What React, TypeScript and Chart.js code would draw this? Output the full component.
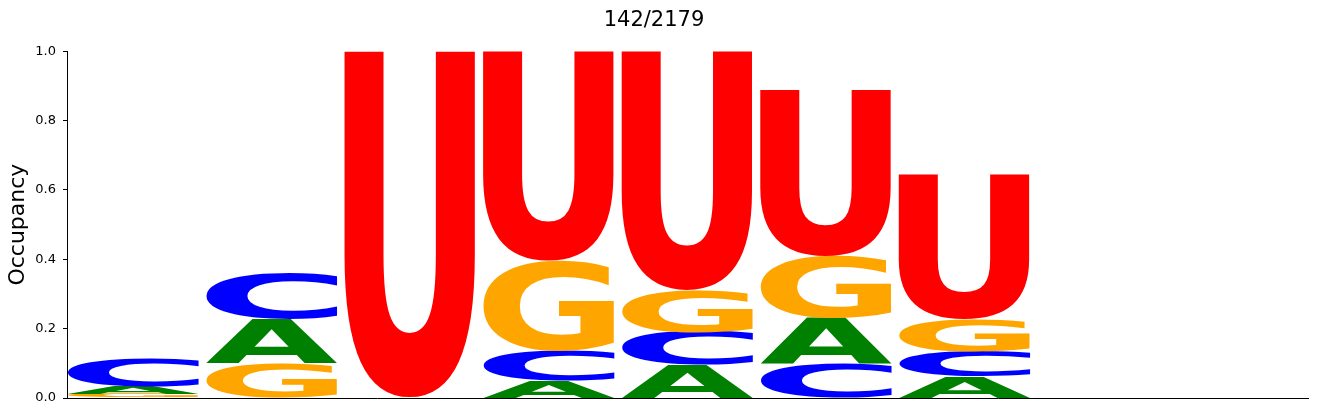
import { useEffect, useRef } from "react";
import Chart from "chart.js/auto";

// positions along the sequence (last two are empty)
const positions = [0, 1, 2, 3, 4, 5, 6, 7, 8];
const bases = ["A", "C", "G", "U"];

// occupancy per base at each position
const occA = [0.022, 0.127, 0, 0.049, 0.095, 0.13, 0.061, 0, 0];
const occC = [0.08, 0.132, 0, 0.087, 0.096, 0.1, 0.072, 0, 0];
const occG = [0.012, 0.1, 0, 0.26, 0.12, 0.179, 0.094, 0, 0];
const occU = [0, 0, 1.0, 0.604, 0.689, 0.479, 0.416, 0, 0];

const yTicks = [0, 0.2, 0.4, 0.6, 0.8, 1.0];

const baseColors: Record<string, string> = {
  A: "#008000",
  C: "#0000ff",
  G: "#ffa500",
  U: "#ff0000",
};

const series = [occA, occC, occG, occU];

// each column is stacked smallest at the bottom
const columns = positions.map((_, i) =>
  bases
    .map((b, j) => ({ letter: b, value: series[j][i] }))
    .sort((a, b) => a.value - b.value)
);

const glyphPlugin = {
  id: "glyphs",
  afterDatasetsDraw(chart: any) {
    const ctx = chart.ctx as CanvasRenderingContext2D;
    chart.data.datasets.forEach((ds: any, di: number) => {
      const meta = chart.getDatasetMeta(di);
      meta.data.forEach((bar: any, i: number) => {
        const { x, y, base, width } = bar.getProps(["x", "y", "base", "width"], true);
        const top = Math.min(y, base);
        const h = Math.abs(base - y);
        if (h < 0.5) return;
        const letter = ds.glyphs[i];
        ctx.save();
        ctx.font = "bold 200px 'DejaVu Sans'";
        ctx.textAlign = "left";
        ctx.textBaseline = "alphabetic";
        const m = ctx.measureText(letter);
        const gw = m.actualBoundingBoxLeft + m.actualBoundingBoxRight;
        const gh = m.actualBoundingBoxAscent + m.actualBoundingBoxDescent;
        ctx.translate(x - width / 2, top);
        ctx.scale(width / gw, h / gh);
        ctx.fillStyle = baseColors[letter];
        ctx.fillText(letter, m.actualBoundingBoxLeft, m.actualBoundingBoxAscent);
        ctx.restore();
      });
    });
  },
};

const App = () => {
  const chartRef = useRef<HTMLCanvasElement | null>(null);

  useEffect(() => {
    if (!chartRef.current) return;
    document.body.style.margin = "0";

    const datasets = bases.map((_, rank) => ({
      label: `rank ${rank}`,
      data: columns.map((c, i) => ({ x: positions[i], y: c[rank].value })),
      glyphs: columns.map((c) => c[rank].letter),
      backgroundColor: "rgba(0,0,0,0)",
      borderWidth: 0,
      categoryPercentage: 1,
      barPercentage: 0.95,
    }));

    Chart.defaults.font.family = "'DejaVu Sans'";
    Chart.defaults.color = "#000";

    const chartInstance = new Chart(chartRef.current, {
      type: "bar",
      data: { datasets: datasets as any },
      options: {
        animation: false,
        responsive: true,
        maintainAspectRatio: false,
        layout: { padding: { left: 0, right: 9, top: 0, bottom: 0 } },
        plugins: {
          legend: { display: false },
          tooltip: { enabled: false },
          title: {
            display: true,
            text: "142/2179",
            color: "#000",
            font: { size: 21, weight: "normal" },
            padding: { top: 8, bottom: 18 },
          },
        },
        scales: {
          x: {
            type: "linear",
            stacked: true,
            min: -0.475,
            max: 8.48,
            offset: false,
            afterBuildTicks: (scale: any) => {
              scale.ticks = positions.map((v) => ({ value: v }));
            },
            grid: { display: false },
            border: { display: true, color: "#000", width: 1 },
            ticks: { display: false },
            afterFit: (scale: any) => {
              scale.height = 18;
            },
          },
          y: {
            stacked: true,
            min: 0,
            max: 1,
            afterBuildTicks: (scale: any) => {
              scale.ticks = yTicks.map((v) => ({ value: v }));
            },
            grid: {
              display: true,
              drawOnChartArea: false,
              drawTicks: true,
              tickLength: 4,
              color: "#000",
            },
            border: { display: true, color: "#000", width: 1 },
            ticks: {
              color: "#000",
              font: { size: 13 },
              padding: 7,
              callback: (v: any) => Number(v).toFixed(1),
            },
            title: {
              display: true,
              text: "Occupancy",
              color: "#000",
              font: { size: 22 },
              padding: { top: 5, bottom: 0 },
            },
            afterFit: (scale: any) => {
              scale.width = 67;
            },
          },
        },
      },
      plugins: [glyphPlugin],
    });

    return () => {
      chartInstance.destroy();
    };
  }, []);

  return (
    <div style={{ width: 1317, height: 416, position: "relative" }}>
      <canvas ref={chartRef}></canvas>
    </div>
  );
};

export default App;
